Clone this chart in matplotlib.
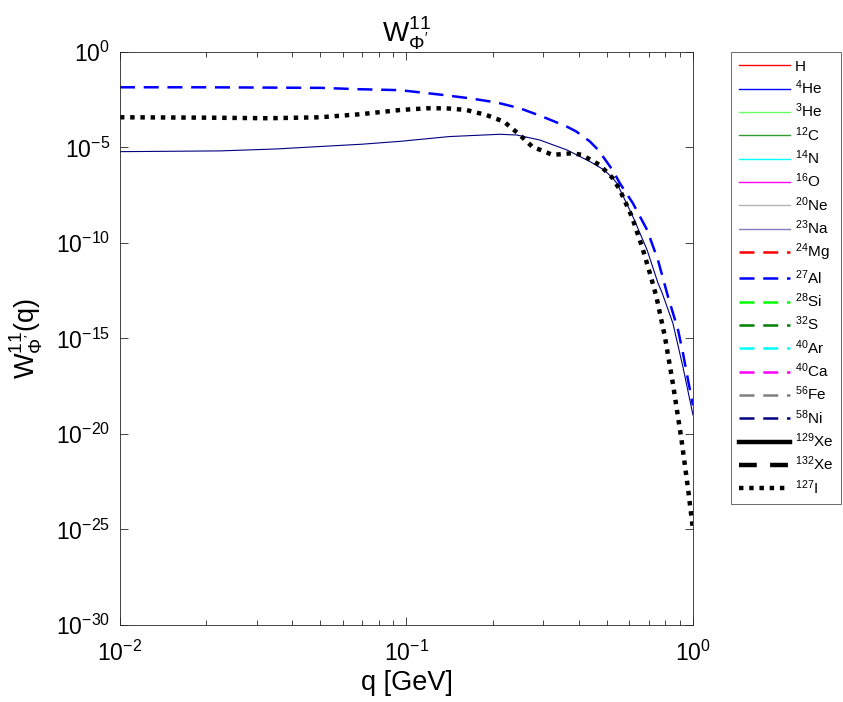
import numpy as np
import matplotlib
matplotlib.use("Agg")
import matplotlib.pyplot as plt
from matplotlib.ticker import LogLocator, NullLocator, NullFormatter

plt.rcParams['font.family'] = ['Liberation Sans', 'DejaVu Sans']
plt.rcParams['mathtext.fontset'] = 'custom'
plt.rcParams['mathtext.rm'] = 'Liberation Sans'
plt.rcParams['mathtext.it'] = 'Liberation Sans:italic'
plt.rcParams['mathtext.bf'] = 'Liberation Sans:bold'
plt.rcParams['axes.unicode_minus'] = False

# --- data (q in GeV, W as 10**value) ---
q_na = [0.01, 0.0224, 0.035, 0.05, 0.07, 0.095, 0.141, 0.212, 0.243, 0.292,
        0.363, 0.437, 0.49, 0.525, 0.543, 0.617, 0.692, 0.755, 0.78, 0.851,
        0.923, 1.0]
logw_na = [-5.22, -5.18, -5.08, -4.95, -4.83, -4.68, -4.43, -4.31, -4.35, -4.61,
           -5.13, -5.74, -6.18, -6.61, -6.88, -8.62, -10.37, -12.1, -12.6, -14.2,
           -16.5, -19.0]

q_al = [0.01, 0.02, 0.05, 0.068, 0.095, 0.134, 0.167, 0.207, 0.249, 0.299,
        0.363, 0.39, 0.41, 0.437, 0.465, 0.493, 0.525, 0.556, 0.617, 0.692,
        0.755, 0.818, 0.887, 0.923, 0.962, 1.0]
logw_al = [-1.85, -1.85, -1.88, -1.95, -2.0, -2.25, -2.43, -2.65, -2.95, -3.39,
           -3.91, -4.15, -4.38, -4.69, -5.1, -5.62, -6.2, -6.88, -7.92, -9.32,
           -10.9, -12.8, -14.55, -15.77, -17.2, -18.5]

q_i = [0.01, 0.02, 0.033, 0.05, 0.069, 0.095, 0.1175, 0.138, 0.162, 0.19,
       0.219, 0.245, 0.275, 0.324, 0.38, 0.41, 0.473, 0.525, 0.556, 0.612,
       0.664, 0.708, 0.745, 0.798, 0.851, 0.912, 0.962, 1.0]
logw_i = [-3.42, -3.44, -3.47, -3.42, -3.26, -3.04, -2.95, -2.95, -3.04, -3.30,
          -3.65, -4.26, -4.96, -5.39, -5.30, -5.39, -5.92, -6.61, -7.23, -8.62,
          -10.19, -11.6, -12.8, -14.9, -17.35, -20.3, -22.9, -25.0]

# legend entries (only Na, Al and I have visible curves)
labels = ['H', '$^{4}$He', '$^{3}$He', '$^{12}$C', '$^{14}$N', '$^{16}$O',
          '$^{20}$Ne', '$^{23}$Na', '$^{24}$Mg', '$^{27}$Al', '$^{28}$Si',
          '$^{32}$S', '$^{40}$Ar', '$^{40}$Ca', '$^{56}$Fe', '$^{58}$Ni',
          '$^{129}$Xe', '$^{132}$Xe', '$^{127}$I']
colors = ['#ff0000', '#0000ff', '#66ff66', '#339933', '#00ffff', '#ff00ff',
          '#b3b3b3', '#7f7fbf',
          '#ff0000', '#0000ff', '#00ff00', '#008000', '#00ffff', '#ff00ff',
          '#808080', '#000080',
          'black', 'black', 'black']

fig = plt.figure(figsize=(8.43, 7.02), dpi=100)
ax = fig.add_axes([0.1423, 0.1097, 0.6797, 0.8163])

handles = []
for k, (lab, col) in enumerate(zip(labels, colors)):
    if k < 8:
        kw = dict(lw=1.0, ls='-')
    elif k < 16:
        kw = dict(lw=1.8, ls=(0, (6, 3.5)))
    elif k == 16:
        kw = dict(lw=3.2, ls='-')
    elif k == 17:
        kw = dict(lw=3.2, ls=(0, (4, 3)))
    else:
        kw = dict(lw=3.2, ls=(0, (1, 1.3)))
    h, = ax.plot([], [], color=col, label=lab, **kw)
    handles.append(h)

ax.plot(q_na, 10.0 ** np.array(logw_na), color='#000080', lw=0.8)
ax.plot(q_al, 10.0 ** np.array(logw_al), color='#0000ff', lw=1.8,
        ls=(0, (6, 3.5)))
ax.plot(q_i, 10.0 ** np.array(logw_i), color='black', lw=3.2,
        ls=(0, (1, 1.3)), dash_capstyle='butt')

ax.set_xscale('log')
ax.set_yscale('log')
ax.set_xlim(1e-2, 1)
ax.set_ylim(1e-30, 1)
ax.set_yticks([1e-30, 1e-25, 1e-20, 1e-15, 1e-10, 1e-5, 1e0])
ax.yaxis.set_minor_locator(NullLocator())
ax.xaxis.set_minor_locator(LogLocator(base=10, subs=np.arange(2, 10)))
ax.xaxis.set_minor_formatter(NullFormatter())

ax.tick_params(which='both', direction='in', top=True, right=True,
               colors='#262626', labelcolor='black', labelsize=16.5)
ax.tick_params(which='major', length=6, width=0.6)
ax.tick_params(which='minor', length=3.5, width=0.6)
ax.tick_params(axis='x', pad=11)
ax.tick_params(axis='y', pad=7)
for s in ax.spines.values():
    s.set_color('#262626')
    s.set_linewidth(0.6)

ax.set_title("W$^{11}_{\\Phi'}$", fontsize=20, pad=5)
ax.set_xlabel('q [GeV]', fontsize=19.5, labelpad=3)
ax.set_ylabel("W$^{11}_{\\Phi'}$(q)", fontsize=19.5, labelpad=8)

leg = fig.legend(handles=handles, loc='upper left',
                 bbox_to_anchor=(0.867, 0.926), fontsize=11,
                 handlelength=3.4, handletextpad=0.3, labelspacing=0.31,
                 borderpad=0.5, frameon=True, fancybox=False,
                 edgecolor='#262626', borderaxespad=0)
leg.get_frame().set_linewidth(0.6)

fig.savefig('out.png', dpi=100)
